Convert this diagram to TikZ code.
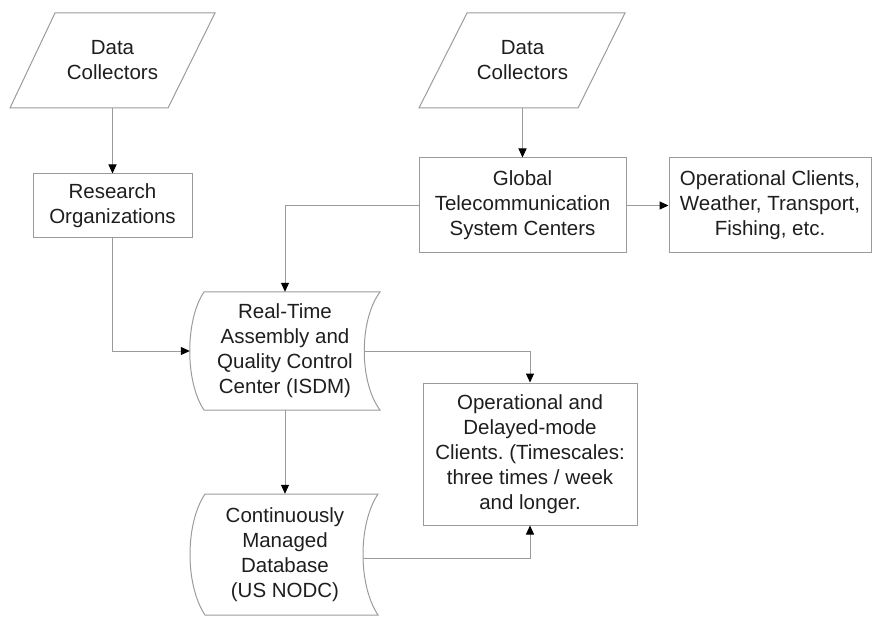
\documentclass[tikz,border=0pt]{standalone}
\usepackage{fontspec}
\setmainfont{Liberation Sans}
\usetikzlibrary{arrows.meta}
\definecolor{linegray}{RGB}{155,155,155}
\definecolor{txt}{RGB}{30,30,30}
\tikzset{
  box/.style={draw=linegray,line width=1pt,inner sep=0pt,align=center,font=\fontsize{20.5}{25}\selectfont\frenchspacing,text=txt},
  plain/.style={inner sep=0pt,align=center,font=\fontsize{20.5}{25}\selectfont\frenchspacing,text=txt},
  conn/.style={draw=linegray,line width=1pt,-{Triangle[width=8pt,length=9pt,color=black]}},
  shapeline/.style={draw=linegray,line width=1pt}
}
\begin{document}
\begin{tikzpicture}[x=1pt,y=-1pt]
\useasboundingbox (0,0) rectangle (872,617);

% Data collectors (left)
\draw[shapeline] (55,13) -- (215,13) -- (168,108) -- (10,108) -- cycle;
\node[plain,minimum width=205pt,minimum height=95pt] (dc1) at (112.5,60.5) {Data\\Collectors};

% Data collectors (right)
\draw[shapeline] (467,13) -- (625,13) -- (578,108) -- (419,108) -- cycle;
\node[plain,minimum width=206pt,minimum height=95pt] (dc2) at (522.5,60.5) {Data\\Collectors};

% Boxes
\node[box,minimum width=159pt,minimum height=64pt] (ro) at (112.5,206) {Research\\Organizations};
\node[box,minimum width=207pt,minimum height=95pt] (gt) at (522.5,205.5) {Global\\Telecommunication\\System Centers};
\node[box,minimum width=202pt,minimum height=95pt] (oc) at (770,205.5) {Operational Clients,\\Weather, Transport,\\Fishing, etc.};
\node[box,minimum width=214pt,minimum height=142pt] (od) at (530,454) {Operational and\\Delayed-mode\\Clients. (Timescales:\\three times / week\\and longer.};

% Stored-data shapes
\draw[shapeline] (204,292) -- (380,292) .. controls (359,320) and (359,382) .. (380,410) -- (204,410) .. controls (185,382) and (185,320) .. (204,292) -- cycle;
\node[plain,minimum width=190pt,minimum height=118pt] (rt) at (285,351) {Real-Time\\Assembly and\\Quality Control\\Center (ISDM)};

\draw[shapeline] (205,494) -- (378,494) .. controls (358,524) and (358,585) .. (378,615) -- (205,615) .. controls (185,585) and (185,524) .. (205,494) -- cycle;
\node[plain,minimum width=190pt,minimum height=121pt] (cm) at (285,554.5) {Continuously\\Managed\\Database\\(US NODC)};

\coordinate (rtR) at (364,351);
\coordinate (cmR) at (363,558);

% Connectors
\draw[conn] (dc1.south) -- (ro.north);
\draw[conn] (dc2.south) -- (gt.north);
\draw[conn] (gt.east) -- (oc.west);
\draw[conn] (gt.west) -| (rt.north);
\draw[conn] (ro.south) |- (rt.west);
\draw[conn] (rtR) -| (od.north);
\draw[conn] (rt.south) -- (cm.north);
\draw[conn] (cmR) -| (od.south);
\end{tikzpicture}
\end{document}
